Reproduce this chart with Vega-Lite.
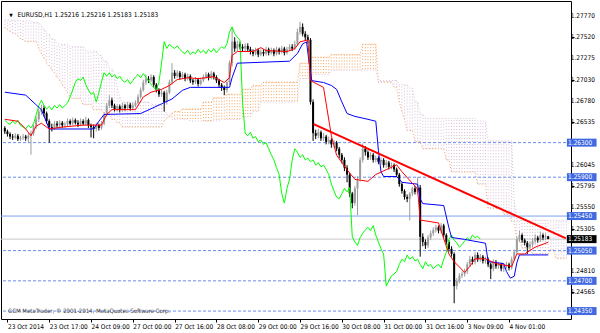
{
"$schema":"https://vega.github.io/schema/vega-lite/v6.json",
"width":570,"height":318,
"autosize":{"type":"none"},
"padding":{"left":1,"top":1,"right":29,"bottom":14},
"background":"#ffffff",
"config":{"view":{"stroke":"#000000","strokeWidth":1},"font":"DejaVu Sans Condensed, Liberation Sans, sans-serif",
 "axis":{"labelOverlap":false,"labelFlush":false,"labelBound":false,"grid":false,"domain":false,"tickColor":"#000000","labelColor":"#000000","tickSize":3}},
"datasets":{
"bars":[
{"i":0,"o":1.2647,"h":1.2649,"l":1.2640,"c":1.2643,"ch":1.2656},
{"i":1,"o":1.2643,"h":1.2645,"l":1.2637,"c":1.2640,"ch":1.2653},
{"i":2,"o":1.2640,"h":1.2642,"l":1.2634,"c":1.2637,"ch":1.2651},
{"i":3,"o":1.2637,"h":1.2640,"l":1.2633,"c":1.2636,"ch":1.2655},
{"i":4,"o":1.2636,"h":1.2641,"l":1.2634,"c":1.2638,"ch":1.2652},
{"i":5,"o":1.2638,"h":1.2640,"l":1.2632,"c":1.2634,"ch":1.2656},
{"i":6,"o":1.2634,"h":1.2638,"l":1.2632,"c":1.2636,"ch":1.2650},
{"i":7,"o":1.2636,"h":1.2640,"l":1.2633,"c":1.2637,"ch":1.2648},
{"i":8,"o":1.2637,"h":1.2639,"l":1.2632,"c":1.2635,"ch":1.2646},
{"i":9,"o":1.2635,"h":1.2641,"l":1.2630,"c":1.2638,"ch":1.2650},
{"i":10,"o":1.2638,"h":1.2644,"l":1.2616,"c":1.2641,"ch":1.2647},
{"i":11,"o":1.2641,"h":1.2651,"l":1.2638,"c":1.2649,"ch":1.2652},
{"i":12,"o":1.2649,"h":1.2660,"l":1.2646,"c":1.2657,"ch":1.2662},
{"i":13,"o":1.2657,"h":1.2669,"l":1.2654,"c":1.2666,"ch":1.2673},
{"i":14,"o":1.2666,"h":1.2674,"l":1.2662,"c":1.2670,"ch":1.2679},
{"i":15,"o":1.2670,"h":1.2673,"l":1.2660,"c":1.2664,"ch":1.2673},
{"i":16,"o":1.2664,"h":1.2666,"l":1.2652,"c":1.2655,"ch":1.2669},
{"i":17,"o":1.2655,"h":1.2657,"l":1.2630,"c":1.2648,"ch":1.2672},
{"i":18,"o":1.2648,"h":1.2652,"l":1.2643,"c":1.2647,"ch":1.2668},
{"i":19,"o":1.2647,"h":1.2655,"l":1.2645,"c":1.2652,"ch":1.2673},
{"i":20,"o":1.2652,"h":1.2655,"l":1.2647,"c":1.2650,"ch":1.2670},
{"i":21,"o":1.2650,"h":1.2656,"l":1.2648,"c":1.2653,"ch":1.2674},
{"i":22,"o":1.2653,"h":1.2655,"l":1.2647,"c":1.2650,"ch":1.2670},
{"i":23,"o":1.2650,"h":1.2654,"l":1.2647,"c":1.2651,"ch":1.2673},
{"i":24,"o":1.2651,"h":1.2658,"l":1.2649,"c":1.2655,"ch":1.2676},
{"i":25,"o":1.2655,"h":1.2657,"l":1.2650,"c":1.2652,"ch":1.2683},
{"i":26,"o":1.2652,"h":1.2659,"l":1.2650,"c":1.2656,"ch":1.2691},
{"i":27,"o":1.2656,"h":1.2658,"l":1.2651,"c":1.2653,"ch":1.2700},
{"i":28,"o":1.2653,"h":1.2656,"l":1.2648,"c":1.2651,"ch":1.2704},
{"i":29,"o":1.2651,"h":1.2658,"l":1.2649,"c":1.2655,"ch":1.2702},
{"i":30,"o":1.2655,"h":1.2657,"l":1.2650,"c":1.2652,"ch":1.2706},
{"i":31,"o":1.2652,"h":1.2660,"l":1.2650,"c":1.2656,"ch":1.2697},
{"i":32,"o":1.2656,"h":1.2658,"l":1.2647,"c":1.2650,"ch":1.2691},
{"i":33,"o":1.2650,"h":1.2652,"l":1.2636,"c":1.2648,"ch":1.2686},
{"i":34,"o":1.2648,"h":1.2651,"l":1.2635,"c":1.2646,"ch":1.2688},
{"i":35,"o":1.2646,"h":1.2653,"l":1.2643,"c":1.2650,"ch":1.2677},
{"i":36,"o":1.2650,"h":1.2652,"l":1.2644,"c":1.2647,"ch":1.2688},
{"i":37,"o":1.2647,"h":1.2655,"l":1.2645,"c":1.2652,"ch":1.2700},
{"i":38,"o":1.2652,"h":1.2665,"l":1.2650,"c":1.2662,"ch":1.2711},
{"i":39,"o":1.2662,"h":1.2676,"l":1.2660,"c":1.2673,"ch":1.2707},
{"i":40,"o":1.2673,"h":1.2685,"l":1.2670,"c":1.2679,"ch":1.2711},
{"i":41,"o":1.2679,"h":1.2682,"l":1.2670,"c":1.2673,"ch":1.2706},
{"i":42,"o":1.2673,"h":1.2675,"l":1.2666,"c":1.2669,"ch":1.2709},
{"i":43,"o":1.2669,"h":1.2674,"l":1.2666,"c":1.2672,"ch":1.2704},
{"i":44,"o":1.2672,"h":1.2674,"l":1.2665,"c":1.2668,"ch":1.2707},
{"i":45,"o":1.2668,"h":1.2676,"l":1.2666,"c":1.2673,"ch":1.2702},
{"i":46,"o":1.2673,"h":1.2675,"l":1.2667,"c":1.2670,"ch":1.2700},
{"i":47,"o":1.2670,"h":1.2677,"l":1.2668,"c":1.2674,"ch":1.2703},
{"i":48,"o":1.2674,"h":1.2676,"l":1.2667,"c":1.2670,"ch":1.2698},
{"i":49,"o":1.2670,"h":1.2676,"l":1.2668,"c":1.2673,"ch":1.2702},
{"i":50,"o":1.2673,"h":1.2679,"l":1.2671,"c":1.2676,"ch":1.2706},
{"i":51,"o":1.2676,"h":1.2686,"l":1.2674,"c":1.2683,"ch":1.2709},
{"i":52,"o":1.2683,"h":1.2694,"l":1.2681,"c":1.2691,"ch":1.2705},
{"i":53,"o":1.2691,"h":1.2703,"l":1.2689,"c":1.2700,"ch":1.2710},
{"i":54,"o":1.2700,"h":1.2709,"l":1.2697,"c":1.2704,"ch":1.2706},
{"i":55,"o":1.2704,"h":1.2707,"l":1.2699,"c":1.2702,"ch":1.2702},
{"i":56,"o":1.2702,"h":1.2709,"l":1.2700,"c":1.2706,"ch":1.2697},
{"i":57,"o":1.2706,"h":1.2708,"l":1.2694,"c":1.2697,"ch":1.2694},
{"i":58,"o":1.2697,"h":1.2699,"l":1.2688,"c":1.2691,"ch":1.2691},
{"i":59,"o":1.2691,"h":1.2693,"l":1.2683,"c":1.2686,"ch":1.2700},
{"i":60,"o":1.2686,"h":1.2691,"l":1.2683,"c":1.2688,"ch":1.2722},
{"i":61,"o":1.2688,"h":1.2690,"l":1.2666,"c":1.2677,"ch":1.2747},
{"i":62,"o":1.2677,"h":1.2691,"l":1.2674,"c":1.2688,"ch":1.2739},
{"i":63,"o":1.2688,"h":1.2703,"l":1.2686,"c":1.2700,"ch":1.2744},
{"i":64,"o":1.2700,"h":1.2722,"l":1.2697,"c":1.2711,"ch":1.2741},
{"i":65,"o":1.2711,"h":1.2714,"l":1.2704,"c":1.2707,"ch":1.2739},
{"i":66,"o":1.2707,"h":1.2714,"l":1.2705,"c":1.2711,"ch":1.2742},
{"i":67,"o":1.2711,"h":1.2713,"l":1.2703,"c":1.2706,"ch":1.2738},
{"i":68,"o":1.2706,"h":1.2712,"l":1.2704,"c":1.2709,"ch":1.2735},
{"i":69,"o":1.2709,"h":1.2711,"l":1.2701,"c":1.2704,"ch":1.2733},
{"i":70,"o":1.2704,"h":1.2710,"l":1.2702,"c":1.2707,"ch":1.2737},
{"i":71,"o":1.2707,"h":1.2709,"l":1.2699,"c":1.2702,"ch":1.2732},
{"i":72,"o":1.2702,"h":1.2704,"l":1.2697,"c":1.2700,"ch":1.2735},
{"i":73,"o":1.2700,"h":1.2706,"l":1.2698,"c":1.2703,"ch":1.2733},
{"i":74,"o":1.2703,"h":1.2705,"l":1.2695,"c":1.2698,"ch":1.2738},
{"i":75,"o":1.2698,"h":1.2705,"l":1.2696,"c":1.2702,"ch":1.2734},
{"i":76,"o":1.2702,"h":1.2709,"l":1.2700,"c":1.2706,"ch":1.2737},
{"i":77,"o":1.2706,"h":1.2712,"l":1.2704,"c":1.2709,"ch":1.2733},
{"i":78,"o":1.2709,"h":1.2711,"l":1.2702,"c":1.2705,"ch":1.2738},
{"i":79,"o":1.2705,"h":1.2713,"l":1.2703,"c":1.2710,"ch":1.2735},
{"i":80,"o":1.2710,"h":1.2712,"l":1.2703,"c":1.2706,"ch":1.2739},
{"i":81,"o":1.2706,"h":1.2708,"l":1.2699,"c":1.2702,"ch":1.2734},
{"i":82,"o":1.2702,"h":1.2704,"l":1.2694,"c":1.2697,"ch":1.2738},
{"i":83,"o":1.2697,"h":1.2699,"l":1.2690,"c":1.2694,"ch":1.2741},
{"i":84,"o":1.2694,"h":1.2696,"l":1.2685,"c":1.2691,"ch":1.2739},
{"i":85,"o":1.2691,"h":1.2703,"l":1.2688,"c":1.2700,"ch":1.2744},
{"i":86,"o":1.2700,"h":1.2725,"l":1.2697,"c":1.2722,"ch":1.2758},
{"i":87,"o":1.2722,"h":1.2764,"l":1.2718,"c":1.2747,"ch":1.2764},
{"i":88,"o":1.2747,"h":1.2752,"l":1.2735,"c":1.2739,"ch":1.2756},
{"i":89,"o":1.2739,"h":1.2748,"l":1.2736,"c":1.2744,"ch":1.2752},
{"i":90,"o":1.2744,"h":1.2747,"l":1.2738,"c":1.2741,"ch":1.2749},
{"i":91,"o":1.2741,"h":1.2744,"l":1.2735,"c":1.2739,"ch":1.2677},
{"i":92,"o":1.2739,"h":1.2745,"l":1.2736,"c":1.2742,"ch":1.2641},
{"i":93,"o":1.2742,"h":1.2745,"l":1.2735,"c":1.2738,"ch":1.2638},
{"i":94,"o":1.2738,"h":1.2741,"l":1.2732,"c":1.2735,"ch":1.2642},
{"i":95,"o":1.2735,"h":1.2738,"l":1.2730,"c":1.2733,"ch":1.2635},
{"i":96,"o":1.2733,"h":1.2740,"l":1.2731,"c":1.2737,"ch":1.2637},
{"i":97,"o":1.2737,"h":1.2739,"l":1.2729,"c":1.2732,"ch":1.2631},
{"i":98,"o":1.2732,"h":1.2738,"l":1.2730,"c":1.2735,"ch":1.2633},
{"i":99,"o":1.2735,"h":1.2738,"l":1.2730,"c":1.2733,"ch":1.2628},
{"i":100,"o":1.2733,"h":1.2741,"l":1.2731,"c":1.2738,"ch":1.2630},
{"i":101,"o":1.2738,"h":1.2740,"l":1.2731,"c":1.2734,"ch":1.2623},
{"i":102,"o":1.2734,"h":1.2740,"l":1.2732,"c":1.2737,"ch":1.2616},
{"i":103,"o":1.2737,"h":1.2739,"l":1.2730,"c":1.2733,"ch":1.2610},
{"i":104,"o":1.2733,"h":1.2741,"l":1.2731,"c":1.2738,"ch":1.2601},
{"i":105,"o":1.2738,"h":1.2740,"l":1.2732,"c":1.2735,"ch":1.2593},
{"i":106,"o":1.2735,"h":1.2742,"l":1.2733,"c":1.2739,"ch":1.2571},
{"i":107,"o":1.2739,"h":1.2741,"l":1.2731,"c":1.2734,"ch":1.2560},
{"i":108,"o":1.2734,"h":1.2741,"l":1.2732,"c":1.2738,"ch":1.2577},
{"i":109,"o":1.2738,"h":1.2744,"l":1.2736,"c":1.2741,"ch":1.2588},
{"i":110,"o":1.2741,"h":1.2744,"l":1.2736,"c":1.2739,"ch":1.2610},
{"i":111,"o":1.2739,"h":1.2748,"l":1.2737,"c":1.2744,"ch":1.2623},
{"i":112,"o":1.2744,"h":1.2762,"l":1.2742,"c":1.2758,"ch":1.2619},
{"i":113,"o":1.2758,"h":1.2770,"l":1.2755,"c":1.2764,"ch":1.2613},
{"i":114,"o":1.2764,"h":1.2768,"l":1.2753,"c":1.2756,"ch":1.2616},
{"i":115,"o":1.2756,"h":1.2759,"l":1.2748,"c":1.2752,"ch":1.2610},
{"i":116,"o":1.2752,"h":1.2755,"l":1.2745,"c":1.2749,"ch":1.2612},
{"i":117,"o":1.2749,"h":1.2751,"l":1.2674,"c":1.2677,"ch":1.2608},
{"i":118,"o":1.2677,"h":1.2680,"l":1.2632,"c":1.2641,"ch":1.2610},
{"i":119,"o":1.2641,"h":1.2645,"l":1.2634,"c":1.2638,"ch":1.2604},
{"i":120,"o":1.2638,"h":1.2646,"l":1.2635,"c":1.2642,"ch":1.2607},
{"i":121,"o":1.2642,"h":1.2644,"l":1.2632,"c":1.2635,"ch":1.2602},
{"i":122,"o":1.2635,"h":1.2641,"l":1.2632,"c":1.2637,"ch":1.2604},
{"i":123,"o":1.2637,"h":1.2639,"l":1.2628,"c":1.2631,"ch":1.2599},
{"i":124,"o":1.2631,"h":1.2637,"l":1.2628,"c":1.2633,"ch":1.2593},
{"i":125,"o":1.2633,"h":1.2635,"l":1.2624,"c":1.2628,"ch":1.2582},
{"i":126,"o":1.2628,"h":1.2633,"l":1.2625,"c":1.2630,"ch":1.2574},
{"i":127,"o":1.2630,"h":1.2632,"l":1.2620,"c":1.2623,"ch":1.2567},
{"i":128,"o":1.2623,"h":1.2625,"l":1.2612,"c":1.2616,"ch":1.2565},
{"i":129,"o":1.2616,"h":1.2618,"l":1.2606,"c":1.2610,"ch":1.2571},
{"i":130,"o":1.2610,"h":1.2613,"l":1.2597,"c":1.2601,"ch":1.2577},
{"i":131,"o":1.2601,"h":1.2604,"l":1.2584,"c":1.2593,"ch":1.2573},
{"i":132,"o":1.2593,"h":1.2595,"l":1.2567,"c":1.2571,"ch":1.2578},
{"i":133,"o":1.2571,"h":1.2573,"l":1.2554,"c":1.2560,"ch":1.2521},
{"i":134,"o":1.2560,"h":1.2580,"l":1.2557,"c":1.2577,"ch":1.2515},
{"i":135,"o":1.2577,"h":1.2591,"l":1.2546,"c":1.2588,"ch":1.2511},
{"i":136,"o":1.2588,"h":1.2613,"l":1.2585,"c":1.2610,"ch":1.2520},
{"i":137,"o":1.2610,"h":1.2629,"l":1.2607,"c":1.2623,"ch":1.2525},
{"i":138,"o":1.2623,"h":1.2626,"l":1.2615,"c":1.2619,"ch":1.2529},
{"i":139,"o":1.2619,"h":1.2621,"l":1.2610,"c":1.2613,"ch":1.2532},
{"i":140,"o":1.2613,"h":1.2619,"l":1.2610,"c":1.2616,"ch":1.2528},
{"i":141,"o":1.2616,"h":1.2618,"l":1.2607,"c":1.2610,"ch":1.2534},
{"i":142,"o":1.2610,"h":1.2615,"l":1.2607,"c":1.2612,"ch":1.2523},
{"i":143,"o":1.2612,"h":1.2614,"l":1.2605,"c":1.2608,"ch":1.2515},
{"i":144,"o":1.2608,"h":1.2613,"l":1.2605,"c":1.2610,"ch":1.2507},
{"i":145,"o":1.2610,"h":1.2612,"l":1.2601,"c":1.2604,"ch":1.2501},
{"i":146,"o":1.2604,"h":1.2610,"l":1.2601,"c":1.2607,"ch":1.2464},
{"i":147,"o":1.2607,"h":1.2609,"l":1.2599,"c":1.2602,"ch":1.2470},
{"i":148,"o":1.2602,"h":1.2607,"l":1.2599,"c":1.2604,"ch":1.2476},
{"i":149,"o":1.2604,"h":1.2606,"l":1.2596,"c":1.2599,"ch":1.2478},
{"i":150,"o":1.2599,"h":1.2601,"l":1.2590,"c":1.2593,"ch":1.2481},
{"i":151,"o":1.2593,"h":1.2595,"l":1.2579,"c":1.2582,"ch":1.2489},
{"i":152,"o":1.2582,"h":1.2584,"l":1.2571,"c":1.2574,"ch":1.2495},
{"i":153,"o":1.2574,"h":1.2576,"l":1.2564,"c":1.2567,"ch":1.2492},
{"i":154,"o":1.2567,"h":1.2570,"l":1.2561,"c":1.2565,"ch":1.2500},
{"i":155,"o":1.2565,"h":1.2573,"l":1.2540,"c":1.2571,"ch":1.2495},
{"i":156,"o":1.2571,"h":1.2579,"l":1.2568,"c":1.2577,"ch":1.2498},
{"i":157,"o":1.2577,"h":1.2580,"l":1.2570,"c":1.2573,"ch":1.2493},
{"i":158,"o":1.2573,"h":1.2590,"l":1.2570,"c":1.2578,"ch":1.2495},
{"i":159,"o":1.2578,"h":1.2581,"l":1.2498,"c":1.2521,"ch":1.2489},
{"i":160,"o":1.2521,"h":1.2525,"l":1.2510,"c":1.2515,"ch":1.2484},
{"i":161,"o":1.2515,"h":1.2518,"l":1.2507,"c":1.2511,"ch":1.2492},
{"i":162,"o":1.2511,"h":1.2523,"l":1.2508,"c":1.2520,"ch":1.2487},
{"i":163,"o":1.2520,"h":1.2528,"l":1.2517,"c":1.2525,"ch":1.2489},
{"i":164,"o":1.2525,"h":1.2532,"l":1.2522,"c":1.2529,"ch":1.2484},
{"i":165,"o":1.2529,"h":1.2535,"l":1.2526,"c":1.2532,"ch":1.2487},
{"i":166,"o":1.2532,"h":1.2534,"l":1.2525,"c":1.2528,"ch":1.2489},
{"i":167,"o":1.2528,"h":1.2537,"l":1.2525,"c":1.2534,"ch":1.2485},
{"i":168,"o":1.2534,"h":1.2536,"l":1.2520,"c":1.2523,"ch":1.2495},
{"i":169,"o":1.2523,"h":1.2525,"l":1.2512,"c":1.2515,"ch":1.2503},
{"i":170,"o":1.2515,"h":1.2517,"l":1.2504,"c":1.2507,"ch":1.2518},
{"i":171,"o":1.2507,"h":1.2510,"l":1.2498,"c":1.2501,"ch":1.2523},
{"i":172,"o":1.2501,"h":1.2503,"l":1.2444,"c":1.2464,"ch":1.2517},
{"i":173,"o":1.2464,"h":1.2473,"l":1.2460,"c":1.2470,"ch":1.2514},
{"i":174,"o":1.2470,"h":1.2479,"l":1.2467,"c":1.2476,"ch":1.2509},
{"i":175,"o":1.2476,"h":1.2481,"l":1.2473,"c":1.2478,"ch":1.2512},
{"i":176,"o":1.2478,"h":1.2484,"l":1.2475,"c":1.2481,"ch":1.2516},
{"i":177,"o":1.2481,"h":1.2492,"l":1.2478,"c":1.2489,"ch":1.2520},
{"i":178,"o":1.2489,"h":1.2499,"l":1.2486,"c":1.2495,"ch":1.2517},
{"i":179,"o":1.2495,"h":1.2498,"l":1.2489,"c":1.2492,"ch":1.2523},
{"i":180,"o":1.2492,"h":1.2503,"l":1.2489,"c":1.2500,"ch":1.2520},
{"i":181,"o":1.2500,"h":1.2503,"l":1.2492,"c":1.2495,"ch":1.25216},
{"i":182,"o":1.2495,"h":1.2501,"l":1.2492,"c":1.2498,"ch":1.25183},
{"i":183,"o":1.2498,"h":1.2500,"l":1.2490,"c":1.2493},
{"i":184,"o":1.2493,"h":1.2498,"l":1.2490,"c":1.2495},
{"i":185,"o":1.2495,"h":1.2497,"l":1.2486,"c":1.2489},
{"i":186,"o":1.2489,"h":1.2491,"l":1.2472,"c":1.2484},
{"i":187,"o":1.2484,"h":1.2495,"l":1.2481,"c":1.2492},
{"i":188,"o":1.2492,"h":1.2494,"l":1.2484,"c":1.2487},
{"i":189,"o":1.2487,"h":1.2492,"l":1.2484,"c":1.2489},
{"i":190,"o":1.2489,"h":1.2491,"l":1.2481,"c":1.2484},
{"i":191,"o":1.2484,"h":1.2490,"l":1.2480,"c":1.2487},
{"i":192,"o":1.2487,"h":1.2492,"l":1.2484,"c":1.2489},
{"i":193,"o":1.2489,"h":1.2491,"l":1.2482,"c":1.2485},
{"i":194,"o":1.2485,"h":1.2498,"l":1.2483,"c":1.2495},
{"i":195,"o":1.2495,"h":1.2506,"l":1.2493,"c":1.2503},
{"i":196,"o":1.2503,"h":1.2521,"l":1.2501,"c":1.2518},
{"i":197,"o":1.2518,"h":1.2528,"l":1.2515,"c":1.2523},
{"i":198,"o":1.2523,"h":1.2525,"l":1.2514,"c":1.2517},
{"i":199,"o":1.2517,"h":1.2519,"l":1.2511,"c":1.2514},
{"i":200,"o":1.2514,"h":1.2516,"l":1.2501,"c":1.2509},
{"i":201,"o":1.2509,"h":1.2515,"l":1.2506,"c":1.2512},
{"i":202,"o":1.2512,"h":1.2519,"l":1.2509,"c":1.2516},
{"i":203,"o":1.2516,"h":1.2524,"l":1.2513,"c":1.2520},
{"i":204,"o":1.2520,"h":1.2522,"l":1.2514,"c":1.2517},
{"i":205,"o":1.2517,"h":1.2527,"l":1.2515,"c":1.2523},
{"i":206,"o":1.2523,"h":1.2525,"l":1.2517,"c":1.2520},
{"i":207,"o":1.2520,"h":1.2525,"l":1.2517,"c":1.25216},
{"i":208,"o":1.25216,"h":1.25216,"l":1.25183,"c":1.25183}
],
"cloud":[
{"i":0,"a":1.2763,"b":1.2772},{"i":1,"a":1.2761,"b":1.2772},{"i":2,"a":1.2759,"b":1.2772},{"i":3,"a":1.2757,"b":1.2772},{"i":4,"a":1.2756,"b":1.2772},{"i":5,"a":1.2753,"b":1.2772},{"i":6,"a":1.2750,"b":1.2771},{"i":7,"a":1.2749,"b":1.2771},{"i":8,"a":1.2747,"b":1.2771},{"i":9,"a":1.2747,"b":1.2771},
{"i":10,"a":1.2747,"b":1.2771},{"i":11,"a":1.2747,"b":1.2769},{"i":12,"a":1.2747,"b":1.2769},{"i":13,"a":1.2739,"b":1.2769},{"i":14,"a":1.2733,"b":1.2765},{"i":15,"a":1.2728,"b":1.2761},{"i":16,"a":1.2722,"b":1.2756},{"i":17,"a":1.2719,"b":1.2756},{"i":18,"a":1.2714,"b":1.2750},{"i":19,"a":1.2711,"b":1.2750},
{"i":20,"a":1.2706,"b":1.2744},{"i":21,"a":1.2702,"b":1.2744},{"i":22,"a":1.2697,"b":1.2744},{"i":23,"a":1.2693,"b":1.2744},{"i":24,"a":1.2688,"b":1.2744},{"i":25,"a":1.2683,"b":1.2741},{"i":26,"a":1.2681,"b":1.2741},{"i":27,"a":1.2681,"b":1.2741},{"i":28,"a":1.2681,"b":1.2741},{"i":29,"a":1.2681,"b":1.2741},
{"i":30,"a":1.2674,"b":1.2741},{"i":31,"a":1.2674,"b":1.2736},{"i":32,"a":1.2674,"b":1.2736},{"i":33,"a":1.2674,"b":1.2736},{"i":34,"a":1.2668,"b":1.2736},{"i":35,"a":1.2668,"b":1.2736},{"i":36,"a":1.2668,"b":1.2731},{"i":37,"a":1.2668,"b":1.2731},{"i":38,"a":1.2664,"b":1.2724},{"i":39,"a":1.2664,"b":1.2724},
{"i":40,"a":1.2664,"b":1.2716},{"i":41,"a":1.2657,"b":1.2716},{"i":42,"a":1.2657,"b":1.2709},{"i":43,"a":1.2653,"b":1.2694},{"i":44,"a":1.2653,"b":1.2683},{"i":45,"a":1.2648,"b":1.2677},{"i":46,"a":1.2648,"b":1.2677},{"i":47,"a":1.2648,"b":1.2677},{"i":48,"a":1.2648,"b":1.2677},{"i":49,"a":1.2648,"b":1.2677},
{"i":50,"a":1.2648,"b":1.2677},{"i":51,"a":1.2648,"b":1.2677},{"i":52,"a":1.2648,"b":1.2677},{"i":53,"a":1.2648,"b":1.2677},{"i":54,"a":1.2648,"b":1.2677},{"i":55,"a":1.2648,"b":1.2677},{"i":56,"a":1.2648,"b":1.2674},{"i":57,"a":1.2648,"b":1.2674},{"i":58,"a":1.2648,"b":1.2674},{"i":59,"a":1.2648,"b":1.2674},
{"i":60,"a":1.2648,"b":1.2674},{"i":61,"a":1.2655,"b":1.2668},{"i":62,"a":1.2658,"b":1.2664},{"i":63,"a":1.2661,"b":1.2660},{"i":64,"a":1.2664,"b":1.2657},{"i":65,"a":1.2666,"b":1.2657},{"i":66,"a":1.2666,"b":1.2657},{"i":67,"a":1.2666,"b":1.2657},{"i":68,"a":1.2669,"b":1.2657},{"i":69,"a":1.2669,"b":1.2657},
{"i":70,"a":1.2669,"b":1.2657},{"i":71,"a":1.2669,"b":1.2655},{"i":72,"a":1.2669,"b":1.2655},{"i":73,"a":1.2669,"b":1.2655},{"i":74,"a":1.2669,"b":1.2655},{"i":75,"a":1.2669,"b":1.2655},{"i":76,"a":1.2677,"b":1.2655},{"i":77,"a":1.2677,"b":1.2655},{"i":78,"a":1.2677,"b":1.2655},{"i":79,"a":1.2677,"b":1.2655},
{"i":80,"a":1.2682,"b":1.2655},{"i":81,"a":1.2682,"b":1.2655},{"i":82,"a":1.2682,"b":1.2655},{"i":83,"a":1.2682,"b":1.2657},{"i":84,"a":1.2682,"b":1.2657},{"i":85,"a":1.2686,"b":1.2657},{"i":86,"a":1.2686,"b":1.2657},{"i":87,"a":1.2686,"b":1.2657},{"i":88,"a":1.2686,"b":1.2657},{"i":89,"a":1.2686,"b":1.2657},
{"i":90,"a":1.2686,"b":1.2657},{"i":91,"a":1.2692,"b":1.2660},{"i":92,"a":1.2692,"b":1.2660},{"i":93,"a":1.2692,"b":1.2660},{"i":94,"a":1.2692,"b":1.2660},{"i":95,"a":1.2696,"b":1.2666},{"i":96,"a":1.2696,"b":1.2666},{"i":97,"a":1.2696,"b":1.2666},{"i":98,"a":1.2696,"b":1.2677},{"i":99,"a":1.2700,"b":1.2677},
{"i":100,"a":1.2700,"b":1.2677},{"i":101,"a":1.2700,"b":1.2677},{"i":102,"a":1.2700,"b":1.2677},{"i":103,"a":1.2700,"b":1.2677},{"i":104,"a":1.2700,"b":1.2677},{"i":105,"a":1.2700,"b":1.2677},{"i":106,"a":1.2700,"b":1.2677},{"i":107,"a":1.2700,"b":1.2677},{"i":108,"a":1.2700,"b":1.2677},{"i":109,"a":1.2700,"b":1.2677},
{"i":110,"a":1.2700,"b":1.2677},{"i":111,"a":1.2700,"b":1.2677},{"i":112,"a":1.2700,"b":1.2677},{"i":113,"a":1.2722,"b":1.2704},{"i":114,"a":1.2722,"b":1.2704},{"i":115,"a":1.2722,"b":1.2704},{"i":116,"a":1.2722,"b":1.2704},{"i":117,"a":1.2729,"b":1.2709},{"i":118,"a":1.2729,"b":1.2709},{"i":119,"a":1.2729,"b":1.2709},
{"i":120,"a":1.2729,"b":1.2709},{"i":121,"a":1.2729,"b":1.2709},{"i":122,"a":1.2729,"b":1.2709},{"i":123,"a":1.2729,"b":1.2709},{"i":124,"a":1.2729,"b":1.2709},{"i":125,"a":1.2732,"b":1.2714},{"i":126,"a":1.2732,"b":1.2714},{"i":127,"a":1.2732,"b":1.2714},{"i":128,"a":1.2732,"b":1.2714},{"i":129,"a":1.2732,"b":1.2714},
{"i":130,"a":1.2732,"b":1.2714},{"i":131,"a":1.2732,"b":1.2714},{"i":132,"a":1.2732,"b":1.2714},{"i":133,"a":1.2732,"b":1.2714},{"i":134,"a":1.2732,"b":1.2714},{"i":135,"a":1.2732,"b":1.2714},{"i":136,"a":1.2732,"b":1.2714},{"i":137,"a":1.2744,"b":1.2714},{"i":138,"a":1.2744,"b":1.2714},{"i":139,"a":1.2744,"b":1.2714},
{"i":140,"a":1.2744,"b":1.2714},{"i":141,"a":1.2744,"b":1.2714},{"i":142,"a":1.2744,"b":1.2714},{"i":143,"a":1.2700,"b":1.2702},{"i":144,"a":1.2700,"b":1.2702},{"i":145,"a":1.2700,"b":1.2702},{"i":146,"a":1.2700,"b":1.2702},{"i":147,"a":1.2700,"b":1.2702},{"i":148,"a":1.2700,"b":1.2702},{"i":149,"a":1.2694,"b":1.2702},
{"i":150,"a":1.2694,"b":1.2702},{"i":151,"a":1.2677,"b":1.2697},{"i":152,"a":1.2666,"b":1.2697},{"i":153,"a":1.2657,"b":1.2697},{"i":154,"a":1.2644,"b":1.2697},{"i":155,"a":1.2644,"b":1.2693},{"i":156,"a":1.2644,"b":1.2693},{"i":157,"a":1.2631,"b":1.2677},{"i":158,"a":1.2631,"b":1.2677},{"i":159,"a":1.2631,"b":1.2663},
{"i":160,"a":1.2623,"b":1.2663},{"i":161,"a":1.2623,"b":1.2658},{"i":162,"a":1.2623,"b":1.2658},{"i":163,"a":1.2623,"b":1.2658},{"i":164,"a":1.2623,"b":1.2658},{"i":165,"a":1.2623,"b":1.2658},{"i":166,"a":1.2623,"b":1.2658},{"i":167,"a":1.2623,"b":1.2658},{"i":168,"a":1.2623,"b":1.2658},{"i":169,"a":1.2610,"b":1.2658},
{"i":170,"a":1.2610,"b":1.2658},{"i":171,"a":1.2596,"b":1.2658},{"i":172,"a":1.2596,"b":1.2658},{"i":173,"a":1.2596,"b":1.2658},{"i":174,"a":1.2596,"b":1.2658},{"i":175,"a":1.2596,"b":1.2658},{"i":176,"a":1.2596,"b":1.2658},{"i":177,"a":1.2596,"b":1.2658},{"i":178,"a":1.2596,"b":1.2658},{"i":179,"a":1.2596,"b":1.2658},
{"i":180,"a":1.2596,"b":1.2658},{"i":181,"a":1.2582,"b":1.2655},{"i":182,"a":1.2582,"b":1.2655},{"i":183,"a":1.2582,"b":1.2655},{"i":184,"a":1.2582,"b":1.2655},{"i":185,"a":1.2554,"b":1.2632},{"i":186,"a":1.2554,"b":1.2632},{"i":187,"a":1.2554,"b":1.2632},{"i":188,"a":1.2554,"b":1.2632},{"i":189,"a":1.2554,"b":1.2632},
{"i":190,"a":1.2554,"b":1.2632},{"i":191,"a":1.2547,"b":1.2632},{"i":192,"a":1.2547,"b":1.2632},{"i":193,"a":1.2547,"b":1.2632},{"i":194,"a":1.2539,"b":1.2632},{"i":195,"a":1.2539,"b":1.2562},{"i":196,"a":1.2517,"b":1.2540},{"i":197,"a":1.2517,"b":1.2540},{"i":198,"a":1.2508,"b":1.2540},{"i":199,"a":1.2508,"b":1.2540},
{"i":200,"a":1.2508,"b":1.2540},{"i":201,"a":1.2508,"b":1.2540},{"i":202,"a":1.2501,"b":1.2540},{"i":203,"a":1.2501,"b":1.2540},{"i":204,"a":1.2501,"b":1.2540},{"i":205,"a":1.2501,"b":1.2540},{"i":206,"a":1.2501,"b":1.2540},{"i":207,"a":1.2501,"b":1.2540},{"i":208,"a":1.2501,"b":1.2540},{"i":209,"a":1.2506,"b":1.2540},
{"i":210,"a":1.2506,"b":1.2540},{"i":211,"a":1.2496,"b":1.2540},{"i":212,"a":1.2496,"b":1.2540},{"i":213,"a":1.2496,"b":1.2540},{"i":214,"a":1.2496,"b":1.2540},{"i":215,"a":1.2496,"b":1.2540}
],
"kijun":[
{"i":0,"v":1.26884},{"i":8,"v":1.26850},{"i":12,"v":1.26738},{"i":14,"v":1.26682},{"i":17,"v":1.26458},{"i":34,"v":1.26458},{"i":36,"v":1.26548},{"i":38,"v":1.26626},{"i":52,"v":1.26637},{"i":56,"v":1.26693},{"i":60,"v":1.26749},{"i":64,"v":1.26805},{"i":68,"v":1.26906},{"i":71,"v":1.26940},{"i":86,"v":1.26940},{"i":87,"v":1.27052},{"i":89,"v":1.27220},{"i":109,"v":1.27243},{"i":112,"v":1.27332},{"i":114,"v":1.27444},{"i":115.5,"v":1.27467},{"i":116.5,"v":1.27220},{"i":117.5,"v":1.27018},{"i":122,"v":1.26996},{"i":125,"v":1.26962},{"i":127,"v":1.26917},{"i":129,"v":1.26772},{"i":131,"v":1.26637},{"i":134,"v":1.26604},{"i":139,"v":1.26570},{"i":142,"v":1.26548},{"i":143,"v":1.26211},{"i":144,"v":1.25964},{"i":145,"v":1.25908},{"i":150,"v":1.25908},{"i":152,"v":1.25841},{"i":158,"v":1.25819},{"i":159,"v":1.25650},{"i":160,"v":1.25594},{"i":168,"v":1.25572},{"i":170,"v":1.25314},{"i":171,"v":1.25202},{"i":176,"v":1.25180},{"i":184,"v":1.25135},{"i":185,"v":1.24922},{"i":191,"v":1.24899},{"i":192,"v":1.24809},{"i":193.5,"v":1.24731},{"i":195,"v":1.24753},{"i":196,"v":1.24910},{"i":197,"v":1.25000},{"i":208,"v":1.25000}
],
"tenkan":[
{"i":0,"v":1.26570},{"i":5,"v":1.26548},{"i":8,"v":1.26458},{"i":10,"v":1.26379},{"i":12,"v":1.26491},{"i":14,"v":1.26525},{"i":17,"v":1.26458},{"i":22,"v":1.26480},{"i":30,"v":1.26503},{"i":37,"v":1.26503},{"i":39,"v":1.26626},{"i":41,"v":1.26682},{"i":50,"v":1.26682},{"i":53,"v":1.26828},{"i":56,"v":1.26884},{"i":60,"v":1.26917},{"i":63,"v":1.26962},{"i":66,"v":1.27030},{"i":70,"v":1.27052},{"i":74,"v":1.27041},{"i":80,"v":1.27063},{"i":84,"v":1.26996},{"i":86,"v":1.27052},{"i":87,"v":1.27310},{"i":89,"v":1.27355},{"i":95,"v":1.27355},{"i":98,"v":1.27400},{"i":100,"v":1.27366},{"i":108,"v":1.27355},{"i":111,"v":1.27388},{"i":113,"v":1.27467},{"i":116,"v":1.27489},{"i":117,"v":1.27018},{"i":122,"v":1.26940},{"i":125,"v":1.26379},{"i":127,"v":1.26155},{"i":131,"v":1.25986},{"i":134,"v":1.25875},{"i":139,"v":1.25852},{"i":142,"v":1.25931},{"i":146,"v":1.25987},{"i":150,"v":1.26043},{"i":152,"v":1.25964},{"i":158,"v":1.25763},{"i":159,"v":1.25404},{"i":166,"v":1.25370},{"i":170,"v":1.25011},{"i":172,"v":1.24922},{"i":176,"v":1.24798},{"i":178,"v":1.24866},{"i":180,"v":1.24955},{"i":184,"v":1.24955},{"i":188,"v":1.24899},{"i":194,"v":1.24866},{"i":196,"v":1.25011},{"i":199,"v":1.25011},{"i":203,"v":1.25090},{"i":208,"v":1.25146}
],
"levels":[
{"p":1.2630,"t":"1.26300","k":"dash"},
{"p":1.2590,"t":"1.25900","k":"dash"},
{"p":1.2545,"t":"1.25450","k":"solid"},
{"p":1.25183,"t":"1.25183","k":"bid"},
{"p":1.2505,"t":"1.25050","k":"dash"},
{"p":1.2470,"t":"1.24700","k":"dash"},
{"p":1.2435,"t":"1.24350","k":"dash"}
],
"yticks":[
{"p":1.2777},{"p":1.2752},{"p":1.27275},{"p":1.2703},{"p":1.2678},{"p":1.26535},{"p":1.26045},{"p":1.25795},{"p":1.2555},{"p":1.25305},{"p":1.2481},{"p":1.24565}
],
"trend":[{"i":118.2,"p":1.26514},{"i":214.8,"p":1.25191}]
},
"layer":[
{"data":{"name":"cloud"},
 "mark":{"type":"rule","strokeDash":[1,2],"strokeWidth":1,"clip":true},
 "encoding":{
  "x":{"field":"i","type":"quantitative","scale":{"domain":[0.453,214.81],"nice":false,"zero":false},
   "axis":{"title":null,"orient":"bottom","values":[1,17,33,49,65,81,97,113,129,145,161,177,193],
    "labelExpr":"datum.value == 1 ? '23 Oct 2014' : datum.value == 17 ? '23 Oct 17:00' : datum.value == 33 ? '24 Oct 09:00' : datum.value == 49 ? '27 Oct 00:00' : datum.value == 65 ? '27 Oct 16:00' : datum.value == 81 ? '28 Oct 08:00' : datum.value == 97 ? '29 Oct 00:00' : datum.value == 113 ? '29 Oct 16:00' : datum.value == 129 ? '30 Oct 08:00' : datum.value == 145 ? '31 Oct 00:00' : datum.value == 161 ? '31 Oct 16:00' : datum.value == 177 ? '3 Nov 09:00' : '4 Nov 01:00'",
    "labelAlign":"left","labelBaseline":"top","labelFontSize":6.5,"labelColor":"#000000","ticks":true,"tickColor":"#000000","tickSize":3,"labelPadding":1,"domain":false,"grid":false,"labelOverlap":false,"labelFlush":false,"labelBound":false,"zindex":1}},
  "y":{"field":"a","type":"quantitative","scale":{"domain":[1.24316,1.27882],"nice":false,"zero":false},
   "axis":{"title":null,"orient":"right","values":[1.2777,1.2752,1.27275,1.2703,1.2678,1.26535,1.26045,1.25795,1.2555,1.25305,1.2481,1.24565],
    "labels":false,"tickColor":"#000000","tickSize":3,"domain":false,"grid":false}},
  "y2":{"field":"b"},
  "color":{"condition":{"test":"datum.a >= datum.b","value":"#F4A460"},"value":"#D8BFD8"}
 }},
{"data":{"name":"cloud"},
 "mark":{"type":"line","color":"#F4A460","strokeWidth":1,"strokeDash":[1,2],"clip":true},
 "encoding":{
  "x":{"field":"i","type":"quantitative"},
  "y":{"field":"a","type":"quantitative"}
 }},
{"data":{"name":"cloud"},
 "mark":{"type":"line","color":"#D8BFD8","strokeWidth":1,"strokeDash":[1,2],"clip":true},
 "encoding":{
  "x":{"field":"i","type":"quantitative"},
  "y":{"field":"b","type":"quantitative"}
 }},
{"data":{"name":"levels"},
 "mark":{"type":"rule","strokeWidth":1},
 "encoding":{
  "y":{"field":"p","type":"quantitative"},
  "strokeDash":{"condition":{"test":"datum.k == 'dash'","value":[3,2]},"value":[1,0]},
  "color":{"condition":[{"test":"datum.k == 'bid'","value":"#c8c8c8"},{"test":"datum.k == 'solid'","value":"#7e9ef2"}],"value":"#6a8cf0"}
 }},
{"data":{"name":"bars"},
 "mark":{"type":"rule","strokeWidth":1,"clip":true},
 "encoding":{
  "x":{"field":"i","type":"quantitative"},
  "y":{"field":"l","type":"quantitative"},
  "y2":{"field":"h"},
  "color":{"condition":{"test":"datum.c >= datum.o","value":"#9c9c9c"},"value":"#000000"}
 }},
{"data":{"name":"bars"},
 "mark":{"type":"bar","size":2,"orient":"vertical","clip":true},
 "encoding":{
  "x":{"field":"i","type":"quantitative"},
  "y":{"field":"o","type":"quantitative"},
  "y2":{"field":"c"},
  "color":{"condition":{"test":"datum.c >= datum.o","value":"#9c9c9c"},"value":"#000000"}
 }},
{"data":{"name":"bars"},
 "mark":{"type":"line","color":"#00ff00","strokeWidth":1,"clip":true},
 "encoding":{
  "x":{"field":"i","type":"quantitative"},
  "y":{"field":"ch","type":"quantitative"}
 }},
{"data":{"name":"kijun"},
 "mark":{"type":"line","color":"#0000ff","strokeWidth":1,"clip":true},
 "encoding":{
  "x":{"field":"i","type":"quantitative"},
  "y":{"field":"v","type":"quantitative"}
 }},
{"data":{"name":"tenkan"},
 "mark":{"type":"line","color":"#ff0000","strokeWidth":1,"clip":true},
 "encoding":{
  "x":{"field":"i","type":"quantitative"},
  "y":{"field":"v","type":"quantitative"}
 }},
{"data":{"name":"trend"},
 "mark":{"type":"line","color":"#ff0000","strokeWidth":2,"clip":true},
 "encoding":{
  "x":{"field":"i","type":"quantitative"},
  "y":{"field":"p","type":"quantitative"}
 }},
{"data":{"name":"yticks"},
 "mark":{"type":"text","align":"left","baseline":"middle","fontSize":6.5,"color":"#000000"},
 "encoding":{
  "x":{"datum":216.6,"type":"quantitative"},
  "y":{"field":"p","type":"quantitative"},
  "text":{"field":"p","format":".5f"}
 }},
{"data":{"name":"levels"},
 "mark":{"type":"bar","orient":"horizontal","size":8},
 "encoding":{
  "x":{"datum":215.15,"type":"quantitative"},
  "x2":{"datum":226.5},
  "y":{"field":"p","type":"quantitative"},
  "color":{"condition":{"test":"datum.k == 'bid'","value":"#000000"},"value":"#4169e1"}
 }},
{"data":{"name":"levels"},
 "mark":{"type":"text","align":"left","baseline":"middle","fontSize":6.5,"color":"#ffffff"},
 "encoding":{
  "x":{"datum":215.6,"type":"quantitative"},
  "y":{"field":"p","type":"quantitative"},
  "text":{"field":"t"}
 }},
{"data":{"values":[{"t":"EURUSD,H1  1.25216 1.25216 1.25183 1.25183"}]},
 "mark":{"type":"text","align":"left","baseline":"middle","fontSize":6.6,"color":"#000000"},
 "encoding":{
  "x":{"datum":4.9,"type":"quantitative"},
  "y":{"datum":1.27781,"type":"quantitative"},
  "text":{"field":"t"}
 }},
{"data":{"values":[{"t":"▼"}]},
 "mark":{"type":"text","align":"center","baseline":"middle","fontSize":5,"color":"#000000"},
 "encoding":{
  "x":{"datum":2.4,"type":"quantitative"},
  "y":{"datum":1.27781,"type":"quantitative"},
  "text":{"field":"t"}
 }},
{"data":{"values":[{"t":"GCM MetaTrader, © 2001-2014, MetaQuotes Software Corp."}]},
 "mark":{"type":"text","align":"left","baseline":"middle","fontSize":6,"color":"#404040"},
 "encoding":{
  "x":{"datum":1.2,"type":"quantitative"},
  "y":{"datum":1.2435,"type":"quantitative"},
  "text":{"field":"t"}
 }}
]
}
